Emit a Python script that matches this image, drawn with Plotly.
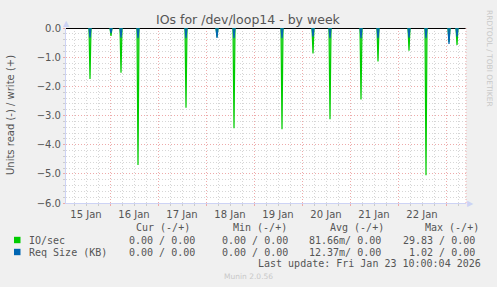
import plotly.graph_objects as go
from datetime import datetime, timedelta

# ---- data ----
spike_times = ["2026-01-15 14:00", "2026-01-16 00:30", "2026-01-16 05:30", "2026-01-16 14:00",
               "2026-01-17 14:00", "2026-01-18 05:30", "2026-01-18 14:00", "2026-01-19 14:00",
               "2026-01-20 05:30", "2026-01-20 14:00", "2026-01-21 05:30", "2026-01-21 14:00",
               "2026-01-22 05:30", "2026-01-22 14:00", "2026-01-23 01:30", "2026-01-23 05:30"]
io_read = [-1.75, -0.27, -1.53, -4.70, -2.73, -0.30, -3.44, -3.47,
           -0.87, -3.13, -2.45, -1.15, -0.78, -5.05, -0.48, -0.58]
req_read = [-0.33, -0.18, -0.33, -0.35, -0.35, -0.34, -0.35, -0.35,
            -0.30, -0.35, -0.35, -0.35, -0.33, -0.35, -0.55, -0.30]

legend_headers = ["Cur (-/+)", "Min (-/+)", "Avg (-/+)", "Max (-/+)"]
series_names = ["IO/sec", "Req Size (KB)"]
series_colors = ["#00cc00", "#0066b3"]
series_stats = [["0.00 / 0.00", "0.00 / 0.00", "81.66m/ 0.00", "29.83 / 0.00"],
                ["0.00 / 0.00", "0.00 / 0.00", "12.37m/ 0.00", "1.02 / 0.00"]]

x_start = "2026-01-15 02:00"
x_end = "2026-01-23 10:00"

# ---- layout helpers (pixel -> paper) ----
W, H = 497, 287
L, R, T, B = 66, 466, 28, 203


def px(x):
    return (x - L) / (R - L)


def py(y):
    return (B - y) / (B - T)


def spikes(times, vals):
    xs, ys = [], []
    for t, v in zip(times, vals):
        d = datetime.strptime(t, "%Y-%m-%d %H:%M")
        xs += [d - timedelta(minutes=30), d, d + timedelta(minutes=30), None]
        ys += [0, v, 0, None]
    return xs, ys


fig = go.Figure()
gx, gy = spikes(spike_times, io_read)
fig.add_trace(go.Scatter(x=gx, y=gy, mode="lines", line=dict(color="#00cc00", width=1.2),
                         fill="toself", fillcolor="rgba(0,204,0,0.55)", connectgaps=False,
                         showlegend=False, hoverinfo="skip"))
bx, by = spikes(spike_times, req_read)
fig.add_trace(go.Scatter(x=bx, y=by, mode="lines", line=dict(color="#0066b3", width=1.2),
                         fill="toself", fillcolor="rgba(0,102,179,0.6)", connectgaps=False,
                         showlegend=False, hoverinfo="skip"))

axis_line = "#cdd3f5"
grid_major = "#eeaaaa"
grid_minor = "#d6d6d6"
gdash = "1px,2px"
tickfont = dict(family="DejaVu Sans", size=10, color="#555555")

fig.update_xaxes(type="date", range=[x_start, x_end], dtick=86400000, tick0="2026-01-15",
                 ticklabelmode="period", tickformat="%d %b", tickfont=tickfont,
                 showgrid=True, gridcolor=grid_major, griddash=gdash, gridwidth=1,
                 ticks="outside", ticklen=2, tickcolor=grid_major,
                 minor=dict(dtick=21600000, tick0="2026-01-15", showgrid=True, gridcolor=grid_minor,
                            griddash=gdash, ticks="outside", ticklen=2, tickcolor="#cccccc"),
                 showline=True, linecolor=axis_line, linewidth=1, zeroline=False, fixedrange=True)
fig.update_yaxes(range=[-6, 0], dtick=1, tick0=0, tickformat=".1f", tickfont=tickfont,
                 showgrid=True, gridcolor=grid_major, griddash=gdash, gridwidth=1,
                 ticks="outside", ticklen=2, tickcolor=grid_major,
                 minor=dict(dtick=0.2, showgrid=True, gridcolor=grid_minor, griddash=gdash,
                            ticks="outside", ticklen=2, tickcolor="#cccccc"),
                 showline=True, linecolor=axis_line, linewidth=1,
                 zeroline=True, zerolinecolor="#000000", zerolinewidth=1, fixedrange=True)

ann = []
mono = "DejaVu Sans Mono"
txtc = "#555555"


def add(text, x, y, xanchor="left", size=10, color=txtc, family=mono, **kw):
    ann.append(dict(text=text, x=px(x), y=py(y), xref="paper", yref="paper", showarrow=False,
                    xanchor=xanchor, yanchor="middle", font=dict(family=family, size=size, color=color), **kw))


# title
add("IOs for /dev/loop14 - by week", 248, 19, xanchor="center", size=12.5, family="DejaVu Sans", color="#555555")
# y axis title
add("Units read (-) / write (+)", 10, 115, xanchor="center", size=10, family="DejaVu Sans",
    color="#555555", textangle=-90)
# rrdtool watermark
add("RRDTOOL / TOBI OETIKER", 489, 58, xanchor="center", size=7.5, family="DejaVu Sans",
    color="#c8c8c8", textangle=90)
# axis arrows
add("▲", 66.5, 23, xanchor="center", size=8, family="DejaVu Sans", color=axis_line)
add("▶", 470, 203, xanchor="center", size=8, family="DejaVu Sans", color=axis_line)

# legend
header_x = [134, 230.5, 327.5, 422.5]
for h, hx in zip(legend_headers, header_x):
    add(h, hx, 227.5)
col_right = [196.5, 290, 383, 476.5]
row_y = [240, 252]
for name, col, stats, yy in zip(series_names, series_colors, series_stats, row_y):
    add(name, 26.5, yy)
    for s, cx in zip(stats, col_right):
        add(s, cx, yy, xanchor="right")
add("Last update: Fri Jan 23 10:00:04 2026", 482.5, 263.5, xanchor="right")
add("Munin 2.0.56", 248, 276.5, xanchor="center", size=7.5, family="DejaVu Sans", color="#c8c8c8")

shapes = []
for col, yy in zip(series_colors, row_y):
    shapes.append(dict(type="rect", xref="paper", yref="paper", x0=px(14), x1=px(20.5),
                       y0=py(yy + 3.2), y1=py(yy - 3.2), fillcolor=col, line=dict(width=0)))
# right border dotted line
shapes.append(dict(type="line", xref="paper", yref="paper", x0=1, x1=1, y0=0, y1=1,
                   line=dict(color=grid_major, width=1, dash=gdash)))

fig.update_layout(width=W, height=H, margin=dict(l=L, r=W - R, t=T, b=H - B, pad=0),
                  paper_bgcolor="#f0f0f0", plot_bgcolor="#ffffff", showlegend=False,
                  annotations=ann, shapes=shapes)

fig.write_html("out.html")
